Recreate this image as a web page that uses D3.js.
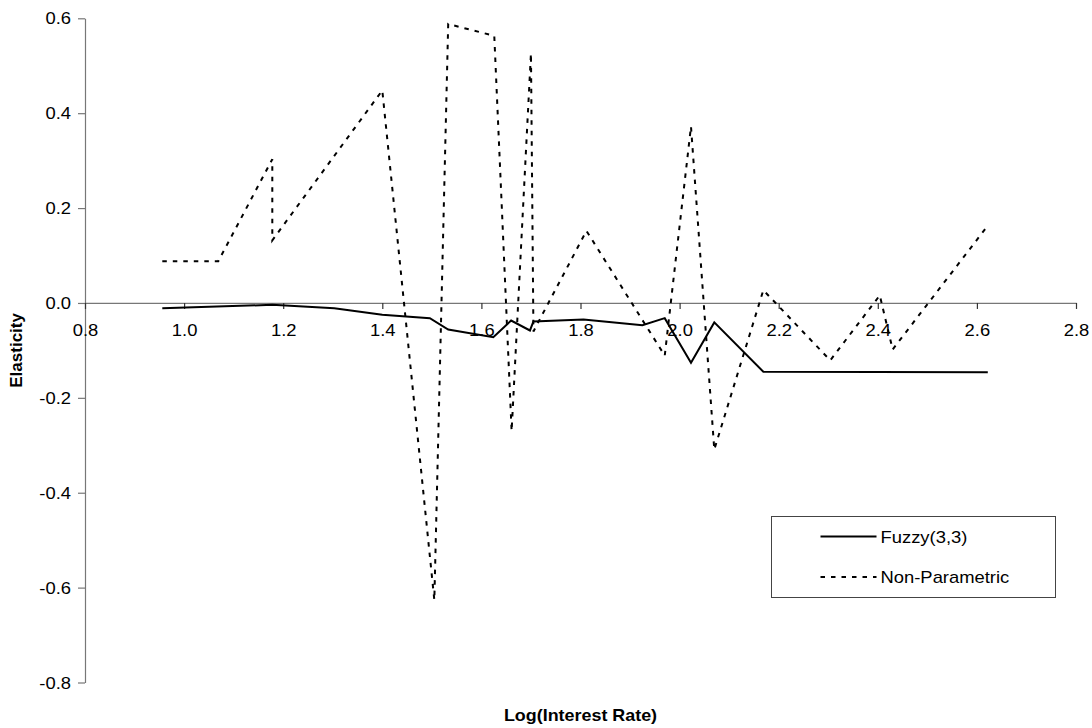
<!DOCTYPE html>
<html>
<head>
<meta charset="utf-8">
<script src="https://cdn.jsdelivr.net/npm/d3@7"></script>
<style>
  body { margin: 0; background: #fff; }
  text { font-family: Arial, "Liberation Sans", sans-serif; fill: #000; }
</style>
</head>
<body>
<svg id="chart" width="1092" height="728"></svg>
<script>
// values
var xTicks = [0.8, 1.0, 1.2, 1.4, 1.6, 1.8, 2.0, 2.2, 2.4, 2.6, 2.8];
var yTicks = [-0.8, -0.6, -0.4, -0.2, 0.0, 0.2, 0.4, 0.6];

var fuzzyX = [0.956, 1.178, 1.303, 1.400, 1.496, 1.533, 1.624, 1.660, 1.698, 1.705, 1.806, 1.925, 1.970, 2.023, 2.070, 2.169, 2.622];
var fuzzyY = [-0.011, -0.004, -0.011, -0.025, -0.032, -0.056, -0.072, -0.037, -0.058, -0.039, -0.035, -0.047, -0.032, -0.126, -0.041, -0.145, -0.146];

var nonparX = [0.956, 1.069, 1.178, 1.178, 1.400, 1.505, 1.533, 1.626, 1.661, 1.700, 1.705, 1.812, 1.970, 2.023, 2.070, 2.169, 2.304, 2.404, 2.430, 2.622];
var nonparY = [0.088, 0.088, 0.303, 0.132, 0.448, -0.626, 0.588, 0.563, -0.270, 0.526, -0.060, 0.152, -0.111, 0.372, -0.309, 0.027, -0.121, 0.016, -0.098, 0.163];

var seriesNames = ["Fuzzy(3,3)", "Non-Parametric"];

var svg = d3.select("#chart");
var sx = 1.15; // text in the picture is stretched sideways

var x = d3.scaleLinear().domain([0.8, 2.8]).range([85, 1076]);
var y = d3.scaleLinear().domain([-0.8, 0.6]).range([682.5, 18.3]);

function fmt(d){ return Math.abs(d) < 1e-9 ? "0.0" : d.toFixed(1); }

// y axis
var gy = svg.append("g").attr("transform", "translate(" + x(0.8) + ",0)")
  .call(d3.axisLeft(y).tickValues(yTicks).tickFormat(fmt).tickSize(7).tickSizeOuter(0));
gy.select(".domain").attr("stroke", "#777").attr("stroke-width", 1.2);
gy.selectAll(".tick line").attr("stroke", "#777").attr("stroke-width", 1.2);
gy.selectAll(".tick text")
  .attr("x", 0).attr("dy", "0.35em")
  .attr("font-size", 16)
  .attr("transform", "translate(-14,0) scale(" + sx + ",1)");

// x axis on the zero line
var gx = svg.append("g").attr("transform", "translate(0," + y(0) + ")")
  .call(d3.axisBottom(x).tickValues(xTicks).tickFormat(fmt).tickSize(6).tickSizeOuter(0));
gx.select(".domain").attr("stroke", "#777").attr("stroke-width", 1.2);
gx.selectAll(".tick line").attr("stroke", "#333").attr("stroke-width", 1.2);
gx.selectAll(".tick text")
  .attr("y", 33).attr("dy", 0)
  .attr("font-size", 16)
  .attr("transform", "scale(" + sx + ",1)")
  .attr("x", 0);

// lines
var line = d3.line().x(function(d){ return x(d[0]); }).y(function(d){ return y(d[1]); });

var fuzzy = fuzzyX.map(function(v, i){ return [v, fuzzyY[i]]; });
var nonpar = nonparX.map(function(v, i){ return [v, nonparY[i]]; });

svg.append("path").datum(fuzzy)
  .attr("d", line).attr("fill", "none")
  .attr("stroke", "#000").attr("stroke-width", 2).attr("stroke-linejoin", "miter");

svg.append("path").datum(nonpar)
  .attr("d", line).attr("fill", "none")
  .attr("stroke", "#000").attr("stroke-width", 2)
  .attr("stroke-dasharray", "4.5,6");

// axis titles
svg.append("text")
  .attr("transform", "translate(" + x(1.8) + ",721) scale(1.12,1)")
  .attr("text-anchor", "middle").attr("font-weight", "bold").attr("font-size", 16)
  .text("Log(Interest Rate)");

svg.append("text")
  .attr("transform", "translate(22," + y(-0.1) + ") rotate(-90)")
  .attr("text-anchor", "middle").attr("font-weight", "bold").attr("font-size", 17)
  .text("Elasticity");

// legend
var lg = svg.append("g").attr("transform", "translate(771.5,516.5)");
lg.append("rect").attr("width", 284).attr("height", 81)
  .attr("fill", "#fff").attr("stroke", "#444").attr("stroke-width", 1);

var styles = [null, "4.5,6"];
seriesNames.forEach(function(name, i){
  var ly = 20 + i * 40.5;
  lg.append("line").attr("x1", 49).attr("x2", 105).attr("y1", ly).attr("y2", ly)
    .attr("stroke", "#000").attr("stroke-width", 2)
    .attr("stroke-dasharray", styles[i]);
  lg.append("text")
    .attr("transform", "translate(109," + (ly + 6) + ") scale(" + sx + ",1)")
    .attr("font-size", 16)
    .text(name);
});
</script>
</body>
</html>
